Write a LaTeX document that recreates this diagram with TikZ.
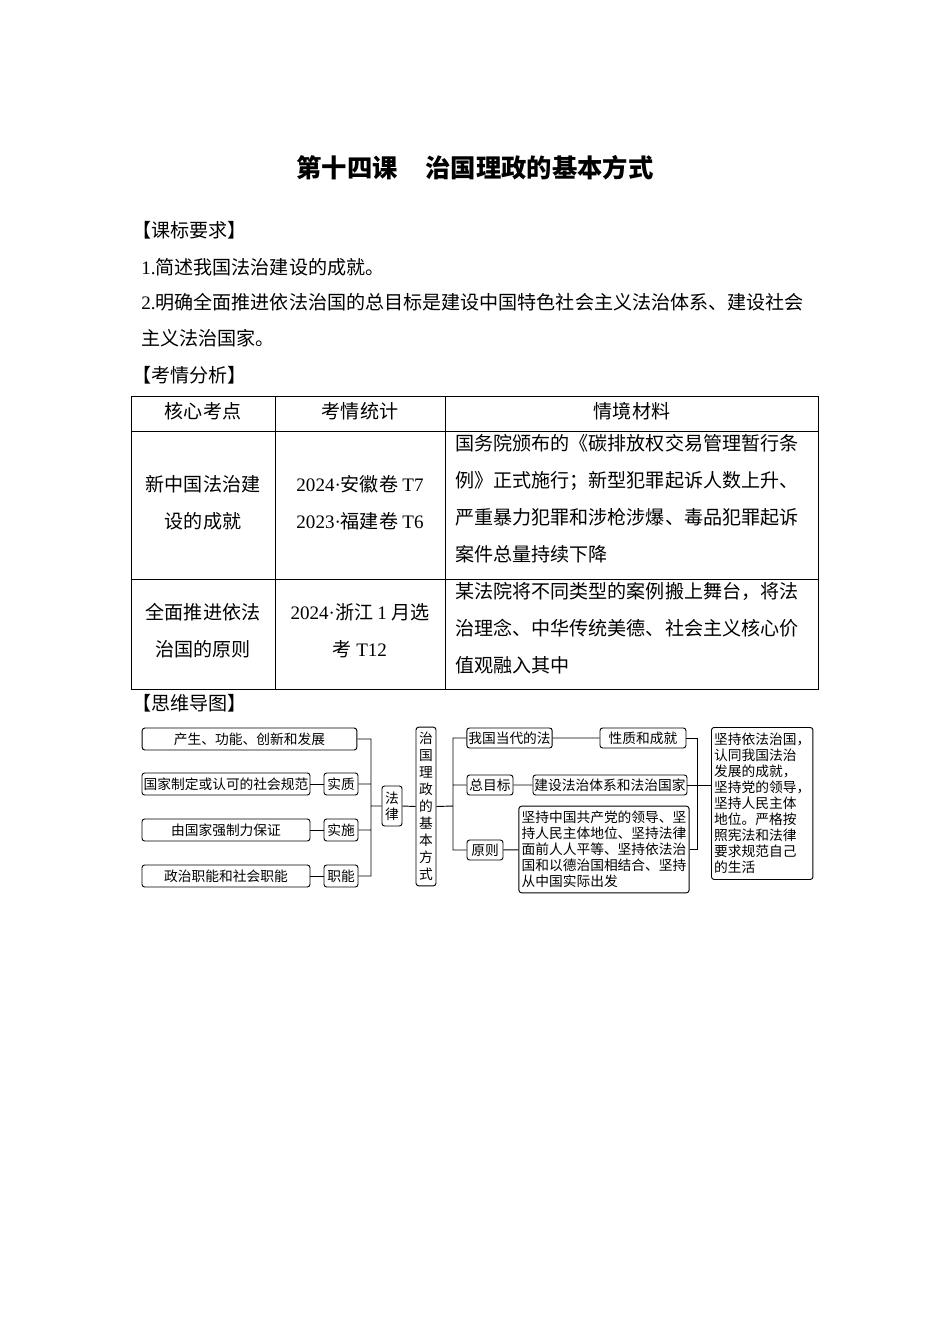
\documentclass[tikz,border=0pt]{standalone}
\usepackage{fontspec}
\setmainfont{Noto Sans CJK SC}
\newfontfamily\lat{Liberation Serif}
\begin{document}
\begin{tikzpicture}[x=0.75pt,y=-0.75pt,
  body/.style={anchor=west,inner sep=0,font=\fontsize{14.3pt}{27.75pt}\selectfont},
  cell/.style={inner sep=0,align=center,font=\fontsize{14.3pt}{27.75pt}\selectfont},
  mbox/.style={draw,rounded corners=2pt,line width=0.7pt,inner sep=0,font=\fontsize{10.3pt}{12pt}\selectfont},
  conn/.style={line width=0.7pt}]
\useasboundingbox (0,0) rectangle (950,1344);
\node[inner sep=0,font=\fontsize{19pt}{22pt}\selectfont\bfseries] (title) at (475,168) {第十四课\hspace{1.1em}治国理政的基本方式};
\node[body] (l1) at (132,230) {【课标要求】};
\node[body] (l2) at (141,267) {{\lat 1.}简述我国法治建设的成就。};
\node[body] (l3) at (141,302) {{\lat 2.}明确全面推进依法治国的总目标是建设中国特色社会主义法治体系、建设社会};
\node[body] (l4) at (141,338) {主义法治国家。};
\node[body] (l5) at (132,375) {【考情分析】};
% table
\draw[line width=0.7pt] (131,396) rectangle (818,689);
\draw[line width=0.7pt] (131,431) -- (818,431) (131,579) -- (818,579) (275,396) -- (275,689) (445,396) -- (445,689);
\node[cell] (h1) at (203,411) {核心考点};
\node[cell] (h2) at (360,411) {考情统计};
\node[cell] (h3) at (632,411) {情境材料};
\node[cell] (a1) at (203,503) {新中国法治建\\设的成就};
\node[cell] (a2) at (360,503) {{\lat 2024·}安徽卷 {\lat T7}\\{\lat 2023·}福建卷 {\lat T6}};
\node[cell,align=left,anchor=north west] (a3) at (455,434) {国务院颁布的《碳排放权交易管理暂行条\\例》正式施行；新型犯罪起诉人数上升、\\严重暴力犯罪和涉枪涉爆、毒品犯罪起诉\\案件总量持续下降};
\node[cell] (b1) at (203,631) {全面推进依法\\治国的原则};
\node[cell] (b2) at (360,631) {{\lat 2024·}浙江 {\lat 1} 月选\\考 {\lat T12}};
\node[cell,align=left,anchor=north west] (b3) at (455,582) {某法院将不同类型的案例搬上舞台，将法\\治理念、中华传统美德、社会主义核心价\\值观融入其中};
\node[body] (l6) at (132,703) {【思维导图】};
% mind map
\node[mbox,minimum width=161pt,minimum height=16.5pt] (m1) at (249.5,739) {产生、功能、创新和发展};
\node[mbox,minimum width=126pt,minimum height=16.5pt] (m2) at (226,784) {国家制定或认可的社会规范};
\node[mbox,minimum width=25.5pt,minimum height=16.5pt] (q2) at (341,784) {实质};
\node[mbox,minimum width=126pt,minimum height=16.5pt] (m3) at (226,830) {由国家强制力保证};
\node[mbox,minimum width=25.5pt,minimum height=16.5pt] (q3) at (341,830) {实施};
\node[mbox,minimum width=126pt,minimum height=16.5pt] (m4) at (226,876) {政治职能和社会职能};
\node[mbox,minimum width=25.5pt,minimum height=16.5pt] (q4) at (341,876) {职能};
\node[mbox,minimum width=15pt,minimum height=30pt,align=center] (law) at (392,806) {法\\律};
\node[mbox,minimum width=15pt,minimum height=119pt,align=center,font=\fontsize{10.3pt}{12.8pt}\selectfont] (core) at (426,806.5) {治\\国\\理\\政\\的\\基\\本\\方\\式};
\node[mbox,minimum width=64pt,minimum height=15pt] (r1) at (509.5,738) {我国当代的法};
\node[mbox,minimum width=64.5pt,minimum height=15pt] (s1) at (643,738) {性质和成就};
\node[mbox,minimum width=34.5pt,minimum height=15pt] (r2) at (490,785) {总目标};
\node[mbox,minimum width=115.5pt,minimum height=15pt] (s2) at (610,785) {建设法治体系和法治国家};
\node[mbox,minimum width=27pt,minimum height=15pt] (r3) at (485,850) {原则};
\node[mbox,minimum width=126pt,minimum height=65pt,align=left,inner sep=2pt] (s3) at (604,849.5) {坚持中国共产党的领导、坚\\持人民主体地位、坚持法律\\面前人人平等、坚持依法治\\国和以德治国相结合、坚持\\从中国实际出发};
\node[mbox,minimum width=73pt,minimum height=114pt,align=left,inner sep=2pt,anchor=north west] (fin) at (711,727) {坚持依法治国，\\认同我国法治\\发展的成就，\\坚持党的领导，\\坚持人民主体\\地位。严格按\\照宪法和法律\\要求规范自己\\的生活};
\coordinate (jA) at (371,806);
\draw[conn] (m1.east) -| (jA) (q4.east) -| (jA) (q2.east) -- (q2.east -| jA) (q3.east) -- (q3.east -| jA) (jA) -- (law.west) (law.east) -- (core.west);
\draw[conn] (m2) -- (q2) (m3) -- (q3) (m4) -- (q4);
\coordinate (jB) at (453,806);
\draw[conn] (core.east) -- (jB) (r1.west) -| (jB) (r3.west) -| (jB) (r2.west) -- (r2.west -| jB);
\draw[conn] (r1) -- (s1) (r2) -- (s2) (r3) -- (s3);
\coordinate (jC) at (697,785);
\draw[conn] (s1.east) -| (jC) (s3.east) -| (jC) (s2.east) -- (fin.west |- s2.east);
\end{tikzpicture}
\end{document}
